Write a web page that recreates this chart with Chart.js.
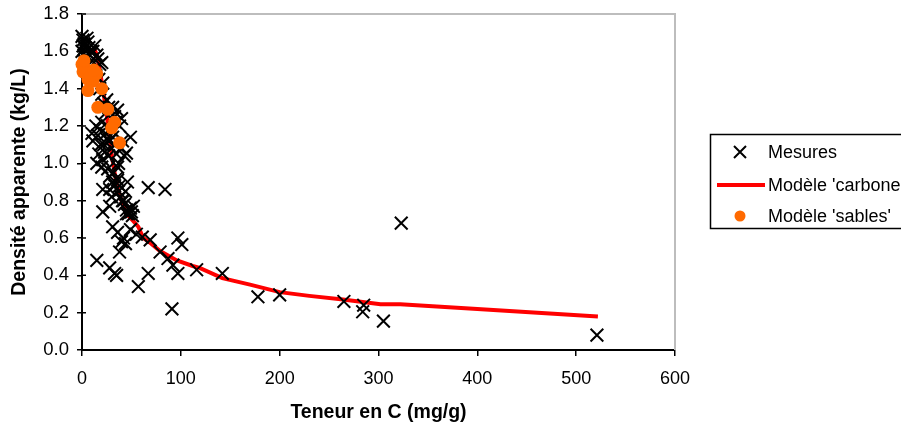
<!DOCTYPE html>
<html>
<head>
<meta charset="utf-8">
<script src="https://cdn.jsdelivr.net/npm/chart.js@4"></script>
<style>
  body { margin: 0; background: #fff; }
  #wrap { position: relative; width: 901px; height: 427px; }
</style>
</head>
<body>
<div id="wrap"><canvas id="densChart"></canvas></div>
<script>
// Densité apparente vs teneur en C

// Measured points [C (mg/g), density (kg/L)]
const mesures = [
    [0,1.68],[1,1.66],[2,1.64],[3,1.62],[4,1.6],[0,1.6],[1,1.63],[5,1.67],[6,1.65],[7,1.62],
    [8,1.58],[3,1.57],[2,1.55],[9,1.6],[11,1.6],[13,1.63],[15,1.58],[16,1.56],[18,1.53],[20,1.54],
    [5,1.52],[10,1.55],[12,1.5],[14,1.47],[17,1.45],[21,1.43],[20,1.37],[18,1.4],[25,1.34],[27,1.3],
    [31,1.3],[36,1.285],[33,1.25],[40,1.24],[22,1.32],[24,1.27],
    [14,1.2],[16,1.15],[18,1.18],[20,1.22],[22,1.1],[24,1.16],[26,1.2],[28,1.12],[30,1.08],[19,1.1],
    [17,1.05],[21,1.02],[23,1.06],[25,1.13],[27,1.04],[29,1.18],[31,1.14],[33,1.1],[35,1.05],[37,1.0],
    [39,1.08],[41,1.12],[43,1.04],[45,1.055],[49,1.14],[10,1.16],[11,1.12],[15,1.0],[20,0.98],[26,0.97],
    [32,0.95],[36,0.98],[38,1.2],[34,1.22],
    [28,0.93],[31,0.9],[33,0.88],[35,0.92],[37,0.85],[39,0.82],[41,0.8],[43,0.78],[45,0.75],[47,0.73],
    [49,0.76],[51,0.72],[36,0.91],[21,0.86],[28,0.86],[42,0.8],[45,0.73],[50,0.74],[52,0.77],[38,0.88],
    [44,0.85],[46,0.9],[30,0.82],[21,0.74],[28,0.77],
    [31,0.66],[36,0.63],[40,0.58],[44,0.57],[38,0.525],[49,0.645],[15,0.48],[28,0.44],[35,0.40],[33,0.41],
    [57,0.34],[67,0.41],[91,0.22],[97,0.6],[101,0.565],[97,0.41],[92,0.455],[87,0.49],[79,0.525],[67,0.87],
    [84,0.86],[116,0.43],[69,0.59],[61,0.605],[42,0.6],[55,0.62],
    [142,0.41],[178,0.285],[200,0.295],[265,0.26],[285,0.24],[284,0.205],[305,0.155],[323,0.68],[521,0.08]
];

// Modèle 'carbone' curve
const modeleCarbone = [
    [12,1.62],[15,1.58],[18,1.5],[21,1.4],[24,1.3],[27,1.18],[30,1.05],[33,0.95],[36,0.87],[40,0.8],
    [45,0.73],[52,0.69],[57,0.66],[62,0.6],[70,0.57],[79,0.53],[96,0.48],[112,0.45],[119,0.44],[142,0.385],
    [170,0.35],[200,0.31],[230,0.29],[264,0.27],[302,0.245],[322,0.245],[400,0.22],[522,0.18]
];

// Modèle 'sables' points
const modeleSables = [
    [0,1.53],[1,1.49],[3,1.51],[6,1.45],[11,1.44],[6,1.39],[15,1.48],[9,1.47],[20,1.4],[16,1.3],
    [26,1.29],[33,1.22],[30,1.19],[38,1.11],[2,1.55],[12,1.5]
];

const legendLabels = ['Mesures', "Modèle 'carbone'", "Modèle 'sables'"];

const colors = {
    mesures: '#000000',
    carbone: '#ff0000',
    sables: '#ff6a00',
    frame: '#bdbdbd'
};

Chart.defaults.font.family = "'Liberation Sans', Arial, sans-serif";
Chart.defaults.color = '#000';

const toPts = arr => arr.map(p => ({ x: p[0], y: p[1] }));

// gray top/right frame of the plot area, and y ticks crossing the axis
const framePlugin = {
    id: 'frame',
    beforeDatasetsDraw(chart) {
        const { ctx, chartArea: a } = chart;
        ctx.save();
        ctx.strokeStyle = colors.frame;
        ctx.lineWidth = 2;
        ctx.beginPath();
        ctx.moveTo(a.left, a.top);
        ctx.lineTo(a.right, a.top);
        ctx.lineTo(a.right, a.bottom);
        ctx.stroke();
        // inner half of the y ticks
        const ys = chart.scales.y;
        ctx.strokeStyle = '#000';
        ctx.lineWidth = 1.5;
        ctx.beginPath();
        ys.ticks.forEach(t => {
            const py = ys.getPixelForValue(t.value);
            ctx.moveTo(a.left, py);
            ctx.lineTo(a.left + 4, py);
        });
        ctx.stroke();
        ctx.restore();
    }
};

// boxed legend on the right, as in the spreadsheet chart
const boxLegend = {
    id: 'boxLegend',
    afterDraw(chart) {
        const ctx = chart.ctx;
        ctx.save();
        ctx.strokeStyle = '#000';
        ctx.lineWidth = 1.5;
        ctx.strokeRect(710.5, 134.5, 240, 94);

        const rows = [152, 185, 216];
        // X marker
        ctx.lineWidth = 2;
        ctx.beginPath();
        ctx.moveTo(734, 146); ctx.lineTo(746, 158);
        ctx.moveTo(746, 146); ctx.lineTo(734, 158);
        ctx.stroke();
        // red line
        ctx.strokeStyle = colors.carbone;
        ctx.lineWidth = 4;
        ctx.beginPath();
        ctx.moveTo(717, rows[1]); ctx.lineTo(765, rows[1]);
        ctx.stroke();
        // orange dot
        ctx.fillStyle = colors.sables;
        ctx.beginPath();
        ctx.arc(740, rows[2], 5.5, 0, Math.PI * 2);
        ctx.fill();

        ctx.fillStyle = '#000';
        ctx.font = "18px 'Liberation Sans', Arial, sans-serif";
        ctx.textBaseline = 'middle';
        legendLabels.forEach((t, i) => ctx.fillText(t, 768, rows[i] + 1));
        ctx.restore();
    }
};

new Chart(document.getElementById('densChart'), {
    type: 'scatter',
    data: {
        datasets: [
            {
                label: legendLabels[2],
                data: toPts(modeleSables),
                pointStyle: 'circle',
                pointRadius: 6.5,
                pointBackgroundColor: colors.sables,
                pointBorderColor: colors.sables,
                pointBorderWidth: 0,
                clip: 14
            },
            {
                label: legendLabels[0],
                data: toPts(mesures),
                pointStyle: 'crossRot',
                pointRadius: 9,
                pointBorderColor: colors.mesures,
                pointBorderWidth: 2,
                clip: 14
            },
            {
                label: legendLabels[1],
                data: toPts(modeleCarbone),
                showLine: true,
                borderColor: colors.carbone,
                borderWidth: 4,
                pointRadius: 0,
                tension: 0,
                clip: 14
            }
        ]
    },
    options: {
        responsive: true,
        maintainAspectRatio: false,
        animation: false,
        layout: {
            padding: { top: 14, right: 226, left: 0, bottom: 0 }
        },
        plugins: {
            legend: { display: false },
            tooltip: { enabled: false }
        },
        scales: {
            x: {
                type: 'linear',
                min: 0,
                max: 600,
                afterFit(scale) { scale.height = 77; },
                grid: {
                    drawOnChartArea: false,
                    color: '#000',
                    tickLength: 6,
                    lineWidth: 1.5
                },
                border: { color: '#000', width: 2 },
                ticks: {
                    stepSize: 100,
                    font: { size: 18 },
                    color: '#000',
                    padding: 12,
                    maxRotation: 0
                },
                title: {
                    display: true,
                    text: 'Teneur en C (mg/g)',
                    font: { size: 19.5, weight: 'bold' },
                    color: '#000',
                    padding: { top: 4, bottom: 3 }
                }
            },
            y: {
                min: 0,
                max: 1.8,
                afterFit(scale) {
                    scale.width = 82;
                    scale.paddingTop = 0;
                    scale.paddingBottom = 0;
                },
                grid: {
                    drawOnChartArea: false,
                    color: '#000',
                    tickLength: 5,
                    lineWidth: 1.5
                },
                border: { color: '#000', width: 2 },
                ticks: {
                    stepSize: 0.2,
                    font: { size: 18.5 },
                    color: '#000',
                    padding: 8,
                    callback: v => v.toFixed(1)
                },
                title: {
                    display: true,
                    text: 'Densité apparente (kg/L)',
                    font: { size: 19.5, weight: 'bold' },
                    color: '#000',
                    padding: { top: 8, bottom: 2 }
                }
            }
        }
    },
    plugins: [framePlugin, boxLegend]
});
</script>
</body>
</html>
